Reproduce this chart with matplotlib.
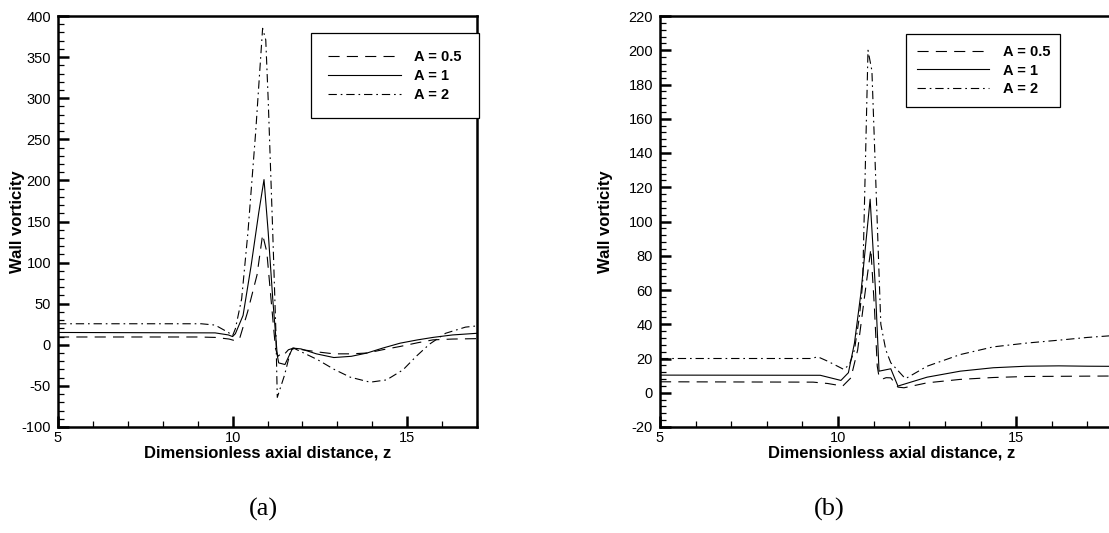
import matplotlib
matplotlib.use("Agg")
import matplotlib.pyplot as plt
from matplotlib.ticker import MultipleLocator

plt.rcParams['font.family'] = ['Liberation Sans', 'DejaVu Sans']
plt.rcParams['axes.unicode_minus'] = False

#### data ####
labels = ["A = 0.5", "A = 1", "A = 2"]

# (a)
za_05 = [5, 9.0, 9.5, 9.9, 10.07, 10.2, 10.43, 10.7, 10.86, 10.98, 11.1, 11.23, 11.3, 11.38, 11.45,
         11.6, 11.75, 12.0, 12.5, 12.9, 13.4, 13.85, 14.3, 14.8, 15.3, 15.74, 16.3, 17.0]
wa_05 = [9.5, 9.5, 9.0, 7.0, 5.0, 7.4, 40, 85, 134, 113, 56, -4.7, -14, -11, -13,
         -6, -4, -6, -9, -11, -11, -10, -6, -2, 2.5, 6, 7, 7.5]

za_1 = [5, 9.5, 9.88, 10.0, 10.08, 10.3, 10.53, 10.75, 10.9, 11.02, 11.15, 11.28, 11.32, 11.5,
        11.72, 11.96, 12.4, 12.9, 13.4, 13.85, 14.3, 14.8, 15.3, 15.74, 16.3, 17]
wa_1 = [15, 14.5, 12, 10, 13.5, 35.7, 96, 161, 201, 137, 56, -13, -22, -24,
        -4, -5, -11, -15.5, -14, -10, -4, 2, 6, 9, 12, 14]

za_2 = [5, 9.1, 9.5, 9.88, 10.0, 10.08, 10.26, 10.44, 10.66, 10.86, 10.95, 11.02, 11.15, 11.24,
        11.28, 11.49, 11.67, 11.77, 12.43, 12.9, 13.37, 13.94, 14.41, 14.88, 15.26, 15.64, 16.1,
        16.67, 17]
wa_2 = [25.6, 25.6, 24, 15, 11, 19.5, 56, 137, 258, 385, 371, 298, 137, 16,
        -64, -36.6, -6, -4.5, -18, -29.7, -39.4, -45.5, -42.7, -30.5, -14, 0.8, 14,
        21.5, 23]

# (b)
zb_05 = [5, 9.3, 9.71, 10.13, 10.36, 10.55, 10.73, 10.92, 11.02, 11.1, 11.15, 11.2, 11.27, 11.35,
         11.48, 11.68, 11.85, 12.5, 13.43, 14.36, 15.29, 16.2, 17, 18]
wb_05 = [6.4, 6.2, 5.4, 3.9, 8.7, 25, 54, 84, 50, 15.5, 9.3, 9.5, 8.2, 8.8,
         8.7, 3.3, 2.9, 5.8, 7.8, 8.9, 9.5, 9.6, 9.7, 9.8]

zb_1 = [5, 9.5, 10.08, 10.29, 10.46, 10.64, 10.9, 11.05, 11.15, 11.48, 11.68, 12.5, 13.43, 14.36,
        15.29, 16.2, 17, 18]
wb_1 = [10.3, 10.2, 7.2, 11.7, 29, 58, 113, 60, 12.6, 14, 3.9, 9.1, 12.6, 14.6,
        15.5, 15.7, 15.5, 15.4]

zb_2 = [5, 9.25, 9.43, 9.71, 10.07, 10.16, 10.32, 10.46, 10.6, 10.69, 10.84, 10.95, 11.2, 11.34,
        11.48, 11.85, 11.9, 12.5, 13.43, 14.36, 15.29, 16.2, 17, 18]
wb_2 = [20, 20, 21, 18.4, 14.6, 13.6, 16.5, 25, 44.7, 64, 200, 188, 40, 25,
        17.5, 9.1, 8.3, 15.5, 22.3, 26.8, 29, 30.7, 32.3, 33.8]

styles = [(0, (10, 6.5)), '-', (0, (7.5, 3.5, 1.5, 3.5))]

fig = plt.figure(figsize=(11.09, 5.33), dpi=100)
# left panel spans z = 5..17, right panel runs off the page edge (z = 5..18)
ax1 = fig.add_axes([58/1109, 106/533, 419/1109, 411/533])
ax2 = fig.add_axes([660/1109, 106/533, 463/1109, 411/533])


def style_axes(ax, xlim, ylim, ymaj, ymin, ylab_x):
    ax.set_xlim(*xlim)
    ax.set_ylim(*ylim)
    ax.xaxis.set_major_locator(MultipleLocator(5))
    ax.xaxis.set_minor_locator(MultipleLocator(1))
    ax.yaxis.set_major_locator(MultipleLocator(ymaj))
    ax.yaxis.set_minor_locator(MultipleLocator(ymin))
    ax.tick_params(which='both', direction='in', top=False, right=False, labelsize=10.5)
    ax.tick_params(which='major', length=8, width=1.8)
    ax.tick_params(axis='y', which='major', pad=5)
    ax.tick_params(axis='x', which='major', pad=3)
    ax.tick_params(which='minor', length=4, width=0.9)
    for s in ax.spines.values():
        s.set_linewidth(1.8)
    ax.set_xlabel("Dimensionless axial distance, z", fontsize=12, fontweight='bold', labelpad=0)
    ax.set_ylabel("Wall vorticity", fontsize=12, fontweight='bold')
    ax.yaxis.set_label_coords(ylab_x, 0.5)


series_a = [(za_05, wa_05), (za_1, wa_1), (za_2, wa_2)]
series_b = [(zb_05, wb_05), (zb_1, wb_1), (zb_2, wb_2)]

for (z, w), ls, lab in zip(series_a, styles, labels):
    ax1.plot(z, w, color='black', lw=0.8, linestyle=ls, label=lab)
for (z, w), ls, lab in zip(series_b, styles, labels):
    ax2.plot(z, w, color='black', lw=0.8, linestyle=ls, label=lab)

style_axes(ax1, (5, 17), (-100, 400), 50, 10, -0.079)
style_axes(ax2, (5, 18), (-20, 220), 20, 4, -0.102)

leg_kw = dict(frameon=True, fancybox=False, framealpha=1, edgecolor='black',
              prop={'weight': 'bold', 'size': 10.5}, handlelength=5.0, handletextpad=0.9,
              labelspacing=0.33, loc='upper left', borderaxespad=0)
l1 = ax1.legend(bbox_to_anchor=(0.605, 0.958), borderpad=1.15, **leg_kw)
l2 = ax2.legend(bbox_to_anchor=(0.532, 0.955), borderpad=0.7, **leg_kw)
for lg in (l1, l2):
    lg.get_frame().set_linewidth(0.9)

fig.text(263/1109, 1 - 509/533, "(a)", ha='center', va='center', fontsize=19,
         family='Liberation Serif')
fig.text(829/1109, 1 - 509/533, "(b)", ha='center', va='center', fontsize=19,
         family='Liberation Serif')

fig.savefig("out.png", dpi=100)
